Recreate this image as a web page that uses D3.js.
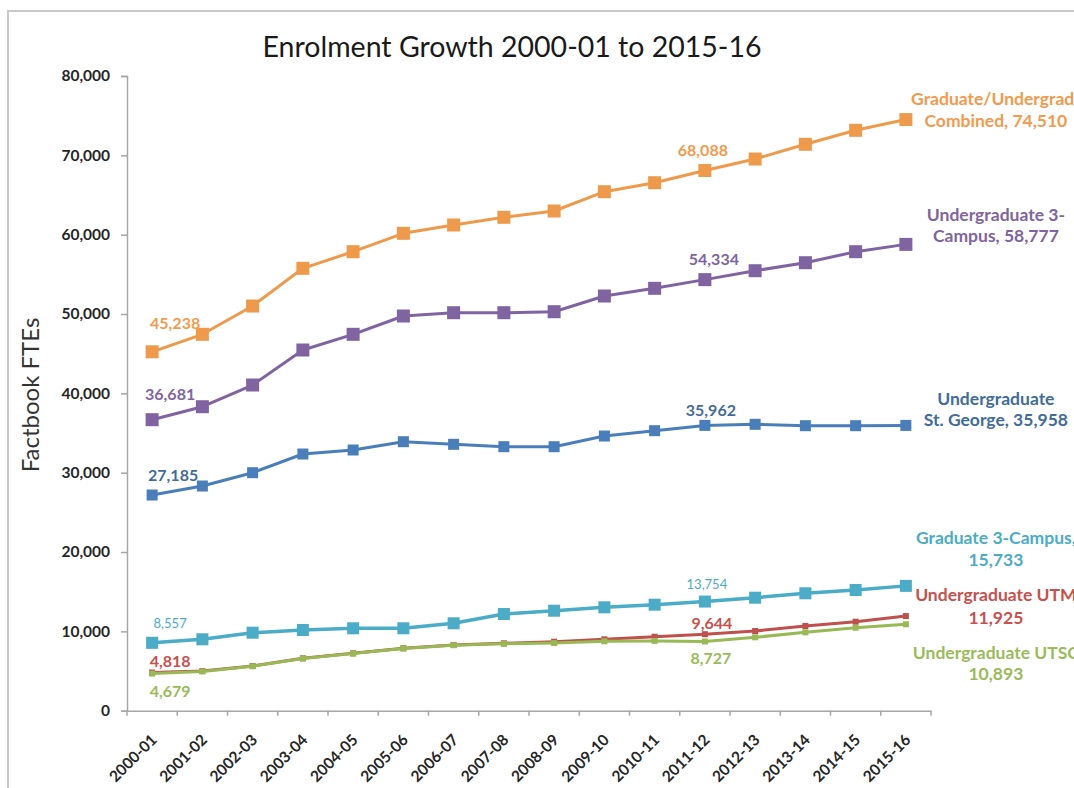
<!DOCTYPE html>
<html><head><meta charset="utf-8">
<script src="https://cdn.jsdelivr.net/npm/d3@7"></script>
<style>
html,body{margin:0;padding:0;background:#fff;}
svg{display:block;font-family:Lato,"Open Sans",sans-serif;}
</style></head>
<body><svg id="chart" width="1074" height="788"></svg>
<script>
const years = ['2000-01','2001-02','2002-03','2003-04','2004-05','2005-06','2006-07','2007-08','2008-09','2009-10','2010-11','2011-12','2012-13','2013-14','2014-15','2015-16'];
const combined = [45238,47441,51008,55760,57853,60172,61218,62188,62982,65415,66549,68088,69536,71390,73155,74510];
const ug3Campus = [36681,38316,41052,45463,47441,49748,50164,50164,50290,52269,53239,54334,55458,56466,57853,58777];
const ugStGeorge = [27185,28321,29998,32354,32859,33905,33577,33275,33275,34623,35291,35962,36098,35923,35923,35958];
const grad3Campus = [8557,8999,9831,10171,10386,10386,11016,12188,12604,13032,13361,13754,14243,14797,15213,15733];
const ugUTM = [4818,5004,5634,6604,7235,7865,8281,8495,8697,8999,9327,9644,10045,10676,11218,11925];
const ugUTSC = [4679,4950,5600,6580,7200,7850,8250,8430,8520,8750,8800,8727,9251,9881,10461,10893];
const yTicks = [0,10000,20000,30000,40000,50000,60000,70000,80000];
const seriesNames = [['Graduate/Undergraduate','Combined, 74,510'],['Undergraduate 3-','Campus, 58,777'],['Undergraduate','St. George, 35,958'],['Graduate 3-Campus,','15,733'],['Undergraduate UTM','11,925'],['Undergraduate UTSC','10,893']];

const svg = d3.select('#chart');
svg.append('rect').attr('width',1074).attr('height',788).attr('fill','#fff');
svg.append('rect').attr('x',8).attr('y',11).attr('width',1100).attr('height',820)
  .attr('fill','none').attr('stroke','#c9c9c9').attr('stroke-width',2);

const x = d3.scaleBand().domain(years).range([127,931]);
const y = d3.scaleLinear().domain([0,80000]).range([710.7,76]);
const cx = d => x(d) + x.bandwidth()/2;

// title
svg.append('text').attr('x',512).attr('y',57).attr('text-anchor','middle')
  .attr('font-size',28.5).attr('fill','#1a1a1a').text('Enrolment Growth 2000-01 to 2015-16');

// y axis
const yAxis = svg.append('g').attr('transform','translate(127,0)')
  .call(d3.axisLeft(y).tickValues(yTicks).tickSize(6).tickPadding(11).tickFormat(d3.format(',')));
yAxis.select('.domain').attr('stroke','#a6a6a6').attr('stroke-width',1.5);
yAxis.selectAll('.tick line').attr('stroke','#a6a6a6').attr('stroke-width',1.5);
yAxis.selectAll('.tick text').attr('font-size',15.5).attr('font-weight','bold').attr('fill','#262626')
  .attr('font-family','Lato');

svg.append('text').attr('transform','translate(39,395) rotate(-90)').attr('text-anchor','middle')
  .attr('font-size',24).attr('fill','#333').text('Factbook FTEs');

// x axis
const xAxis = svg.append('g').attr('transform','translate(0,710.7)')
  .call(d3.axisBottom(x).tickSize(0).tickPadding(0));
xAxis.select('.domain').attr('stroke','#a6a6a6').attr('stroke-width',1.5);
xAxis.selectAll('.tick text').remove();
const bounds = years.map(d => x(d)).concat([x(years[years.length-1]) + x.bandwidth()]);
xAxis.selectAll('line.bt').data(bounds).join('line').attr('class','bt')
  .attr('x1',d=>d).attr('x2',d=>d).attr('y1',0).attr('y2',5).attr('stroke','#a6a6a6').attr('stroke-width',1.5);
svg.append('g').selectAll('text').data(years).join('text')
  .attr('transform',d=>`translate(${cx(d)+2},${737}) rotate(-45)`)
  .attr('text-anchor','end').attr('dy','0.35em').attr('font-size',15.5).attr('font-weight','bold')
  .attr('fill','#262626').text(d=>d);

const series = [
  {vals: combined, line:'#ee9a4a', text:'#f39a4e', ms:13, lw:3, name:seriesNames[0], nd:[-21,1], ndx:[14,0],
   labels:[{i:0,dx:23,dy:-29,sz:16,w:'bold'},{i:11,dx:-2,dy:-21,sz:16,w:'bold'}]},
  {vals: ug3Campus, line:'#8064a2', text:'#8064a2', ms:13, lw:3, name:seriesNames[1], nd:[-30,-9], ndx:[0,0],
   labels:[{i:0,dx:18,dy:-26,sz:16,w:'bold'},{i:11,dx:9,dy:-21,sz:16,w:'bold'}]},
  {vals: ugStGeorge, line:'#4a7ebb', text:'#416c9c', ms:11, lw:3, name:seriesNames[2], nd:[-27,-6], ndx:[0,0],
   labels:[{i:0,dx:21,dy:-21,sz:16,w:'bold'},{i:11,dx:6,dy:-16,sz:16,w:'bold'}]},
  {vals: grad3Campus, line:'#4aacc6', text:'#4aacc6', ms:12, lw:3.5, name:seriesNames[3], nd:[-48,-26], ndx:[0,0],
   labels:[{i:0,dx:18,dy:-20,sz:13,w:'normal'},{i:11,dx:2,dy:-18,sz:13,w:'normal'}]},
  {vals: ugUTM, line:'#c0504d', text:'#c8504d', ms:6, lw:3, name:seriesNames[4], nd:[-22,1], ndx:[0,0],
   labels:[{i:0,dx:18,dy:-12,sz:16,w:'bold'},{i:11,dx:7,dy:-12,sz:16,w:'bold'}]},
  {vals: ugUTSC, line:'#98b954', text:'#9bbb59', ms:6, lw:3, name:seriesNames[5], nd:[28,49], ndx:[0,0],
   labels:[{i:0,dx:18,dy:17,sz:16,w:'bold'},{i:11,dx:6,dy:16,sz:16,w:'bold'}]}
];

const line = d3.line().x((d,i)=>cx(years[i])).y(d=>y(d));
const g = svg.append('g');
series.forEach(s => {
  g.append('path').datum(s.vals).attr('d',line).attr('fill','none')
    .attr('stroke',s.line).attr('stroke-width',s.lw).attr('stroke-linejoin','round');
  g.selectAll(null).data(s.vals).join('rect')
    .attr('x',(d,i)=>cx(years[i])-s.ms/2).attr('y',d=>y(d)-s.ms/2)
    .attr('width',s.ms).attr('height',s.ms).attr('fill',s.line);
});
series.forEach(s => {
  s.labels.forEach(l => {
    svg.append('text').attr('x',cx(years[l.i])+l.dx).attr('y',y(s.vals[l.i])+l.dy)
      .attr('text-anchor','middle').attr('dominant-baseline','central')
      .attr('font-size',l.sz).attr('font-weight',l.w).attr('fill',s.text)
      .text(d3.format(',')(s.vals[l.i]));
  });
  const li = s.vals.length-1;
  const ly = y(s.vals[li]);
  s.name.forEach((t,k) => {
    svg.append('text').attr('x',cx(years[li])+90+s.ndx[k]).attr('y',ly+s.nd[k])
      .attr('text-anchor','middle').attr('dominant-baseline','central')
      .attr('font-size',17.5).attr('font-weight','bold').attr('fill',s.text).text(t);
  });
});
</script></body></html>
